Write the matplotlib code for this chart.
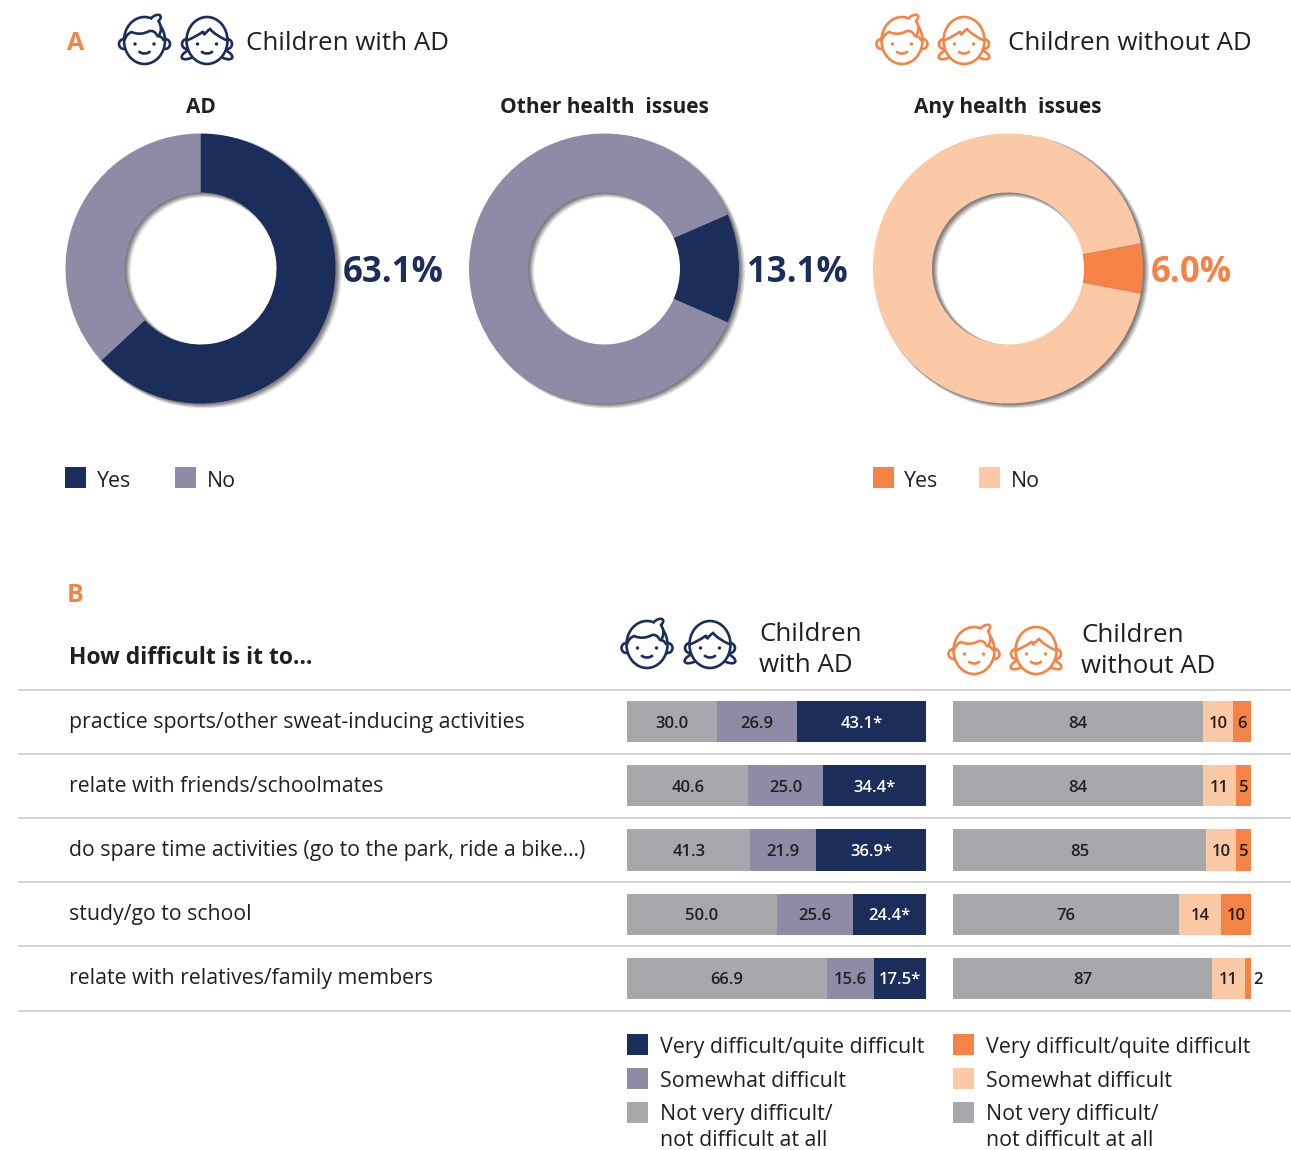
import matplotlib
matplotlib.use("Agg")
import matplotlib.pyplot as plt
from matplotlib.patches import Circle, Ellipse, Arc, PathPatch, Rectangle
from matplotlib.path import Path

W, H = 1291, 1150
NAVY = "#1b2d5b"
MAUVE = "#8e8ba6"
GREY = "#a7a8ab"
ORANGE = "#f58345"
PEACH = "#fcc9a6"
INK = "#231f20"

plt.rcParams["font.family"] = ["Open Sans", "DejaVu Sans"]

# panel A
donut_titles = ["AD", "Other health  issues", "Any health  issues"]
donut_yes = [63.1, 13.1, 6.0]
donut_no = [36.9, 86.9, 94.0]
donut_labels = ["63.1%", "13.1%", "6.0%"]
donut_start = [90, 23.6, 10.8]

# panel B
questions = [
    "practice sports/other sweat-inducing activities",
    "relate with friends/schoolmates",
    "do spare time activities (go to the park, ride a bike\u2026)",
    "study/go to school",
    "relate with relatives/family members",
]
ad_not = [30.0, 40.6, 41.3, 50.0, 66.9]
ad_some = [26.9, 25.0, 21.9, 25.6, 15.6]
ad_very = [43.1, 34.4, 36.9, 24.4, 17.5]
noad_not = [84, 84, 85, 76, 87]
noad_some = [10, 11, 10, 14, 11]
noad_very = [6, 5, 5, 10, 2]


def px_axes(x0, y0, x1, y1):
    # axes placed with picture pixel coordinates
    return fig.add_axes([x0 / W, 1 - y1 / H, (x1 - x0) / W, (y1 - y0) / H])


def face_base(ax, cx, cy, col, s):
    ax.add_patch(Ellipse((cx, cy + 1.5 * s), 41 * s, 47 * s, fc="white", ec=col, lw=1.9, zorder=5))
    for sx in (-1, 1):
        ax.add_patch(Circle((cx + sx * 9.5 * s, cy + 5 * s), 1.7 * s, fc=col, ec=col, lw=0, zorder=7))
    ax.add_patch(Arc((cx, cy + 10 * s), 13 * s, 9 * s, theta1=20, theta2=160, ec=col, lw=1.9, zorder=7))


def curve(ax, cx, cy, s, col, pts, z=6, fill="none"):
    verts = [(cx + a * s, cy + b * s) for a, b in pts]
    codes = [Path.MOVETO] + [Path.CURVE3] * (len(verts) - 1)
    ax.add_patch(PathPatch(Path(verts, codes), fc=fill, ec=col, lw=1.9, zorder=z, capstyle="round"))


def boy(ax, cx, cy, col, s=1.0):
    for sx in (-1, 1):
        ax.add_patch(Circle((cx + sx * 20.5 * s, cy + 5 * s), 5 * s, fc="white", ec=col, lw=1.9, zorder=4))
    face_base(ax, cx, cy, col, s)
    curve(ax, cx, cy, s, col, [(-20, 1), (-18, -5), (-13, -7), (-4, -3), (5, -8), (10, -9), (13, -3), (17, -3), (19, 1)])
    curve(ax, cx, cy, s, col, [(7, -21), (11, -25), (15, -24), (18, -22), (14, -18), (19, -10), (14, -3)], fill="white")


def girl(ax, cx, cy, col, s=1.0):
    ax.add_patch(Ellipse((cx - 17 * s, cy + 15 * s), 18 * s, 8 * s, angle=-25, fc="white", ec=col, lw=1.9, zorder=3))
    ax.add_patch(Ellipse((cx + 17 * s, cy + 15 * s), 18 * s, 8 * s, angle=25, fc="white", ec=col, lw=1.9, zorder=3))
    for sx in (-1, 1):
        ax.add_patch(Circle((cx + sx * 20 * s, cy + 5 * s), 5 * s, fc="white", ec=col, lw=1.9, zorder=4))
    face_base(ax, cx, cy, col, s)
    curve(ax, cx, cy, s, col, [(-19, 1), (-12, -2), (-6, -6), (-3, -9), (-3, -4), (0, -8), (3, -10), (8, -4), (19, 1)])


def legend_box(ax, x, y, col, w=21):
    ax.add_patch(Rectangle((x, y), w, 21, fc=col, ec="none"))


fig = plt.figure(figsize=(W / 100, H / 100), dpi=100, facecolor="white")

# donuts
centers = [200.5, 604, 1008]
for i in range(3):
    cx = centers[i]
    ax = px_axes(cx - 150, 268.5 - 150, cx + 150, 268.5 + 150)
    ax.set_xlim(-150, 150)
    ax.set_ylim(-150, 150)
    ax.set_aspect("equal")
    ax.axis("off")
    # soft drop shadow, stacked rings
    for off, grow in [(4, 2), (3, 1.5), (2.5, 1), (2, 0.5), (1.5, 0)]:
        ax.pie([1], colors=["black"], radius=135 + grow, center=(off, -off * 0.7), startangle=90,
               wedgeprops=dict(width=59 + 2 * grow, alpha=0.13, lw=0))
    cols = [NAVY, MAUVE] if i < 2 else [ORANGE, PEACH]
    ax.pie([donut_yes[i], donut_no[i]], colors=cols, radius=135, startangle=donut_start[i],
           counterclock=False, wedgeprops=dict(width=59, lw=0))
    ax.set_xlim(-150, 150)
    ax.set_ylim(-150, 150)

# stacked bars
rows = list(range(len(questions)))
panels = [
    (627, 926, ad_not, ad_some, ad_very, [GREY, MAUVE, NAVY], True),
    (953, 1251, noad_not, noad_some, noad_very, [GREY, PEACH, ORANGE], False),
]
for x0, x1, low, mid, high, cols, starred in panels:
    ax = px_axes(x0, 689.5, x1, 1010.5)
    ax.set_xlim(0, 100)
    ax.set_ylim(4.5, -0.5)
    ax.axis("off")
    left = [0] * len(rows)
    for j, vals in enumerate([low, mid, high]):
        ax.barh(rows, vals, left=left, height=0.64, color=cols[j], lw=0)
        for r in rows:
            val = vals[r]
            txt = f"{val:.1f}" if starred else f"{val}"
            if starred and j == 2:
                txt += "*"
            tc = "white" if starred and j == 2 else INK
            xpos = left[r] + val / 2
            if val < 3:
                xpos = left[r] + val + 2.2
            ax.text(xpos, r + 0.03, txt, ha="center", va="center", color=tc, fontsize=12,
                    fontweight="semibold", clip_on=False)
        left = [a + b for a, b in zip(left, vals)]

# everything else in picture pixels, y is the text baseline
ov = px_axes(0, 0, W, H)
ov.set_xlim(0, W)
ov.set_ylim(H, 0)
ov.axis("off")
ov.patch.set_alpha(0)

ov.text(67, 50, "A", color=ORANGE, fontsize=18, fontweight="bold")
ov.text(67, 602, "B", color=ORANGE, fontsize=18, fontweight="bold")

boy(ov, 144.5, 39, NAVY)
girl(ov, 207, 39, NAVY)
boy(ov, 902, 39, ORANGE)
girl(ov, 964, 39, ORANGE)
boy(ov, 647, 643, NAVY)
girl(ov, 710, 643, NAVY)
boy(ov, 974, 649, ORANGE)
girl(ov, 1036, 649, ORANGE)

ov.text(246, 50, "Children with AD", color=INK, fontsize=18.6)
ov.text(1008, 50, "Children without AD", color=INK, fontsize=18.6)

for i in range(3):
    ov.text(centers[i], 113, donut_titles[i], color=INK, fontsize=15, fontweight="bold", ha="center")
label_x = [343, 747, 1151]
label_col = [NAVY, NAVY, ORANGE]
for i in range(3):
    ov.text(label_x[i], 282, donut_labels[i], color=label_col[i], fontsize=25, fontweight="bold")

legend_box(ov, 65, 467, NAVY)
ov.text(97, 487, "Yes", color=INK, fontsize=15.4)
legend_box(ov, 175, 467, MAUVE)
ov.text(207, 487, "No", color=INK, fontsize=15.4)
legend_box(ov, 873, 467, ORANGE)
ov.text(904, 487, "Yes", color=INK, fontsize=15.4)
legend_box(ov, 979, 467, PEACH)
ov.text(1011, 487, "No", color=INK, fontsize=15.4)

ov.text(69, 664, "How difficult is it to\u2026", color=INK, fontsize=16.5, fontweight="bold")
ov.text(759, 641, "Children", color=INK, fontsize=18.6)
ov.text(759, 672, "with AD", color=INK, fontsize=18.6)
ov.text(1081, 642, "Children", color=INK, fontsize=18.6)
ov.text(1081, 673, "without AD", color=INK, fontsize=18.6)

for r in range(6):
    y = 689.5 + 64.2 * r
    ov.plot([18, 1291], [y, y], color="#d0d0d0", lw=1.3, solid_capstyle="butt")
for r in rows:
    ov.text(69, 728 + 64 * r, questions[r], color=INK, fontsize=15.3)

for x, cols in [(627, [NAVY, MAUVE, GREY]), (953, [ORANGE, PEACH, GREY])]:
    for k, y in enumerate([1034, 1068, 1102]):
        legend_box(ov, x, y, cols[k])
    tx = x + 33
    ov.text(tx, 1053, "Very difficult/quite difficult", color=INK, fontsize=15.4)
    ov.text(tx, 1087, "Somewhat difficult", color=INK, fontsize=15.4)
    ov.text(tx, 1120, "Not very difficult/", color=INK, fontsize=15.4)
    ov.text(tx, 1146, "not difficult at all", color=INK, fontsize=15.4)

fig.savefig("out.png", dpi=100)
